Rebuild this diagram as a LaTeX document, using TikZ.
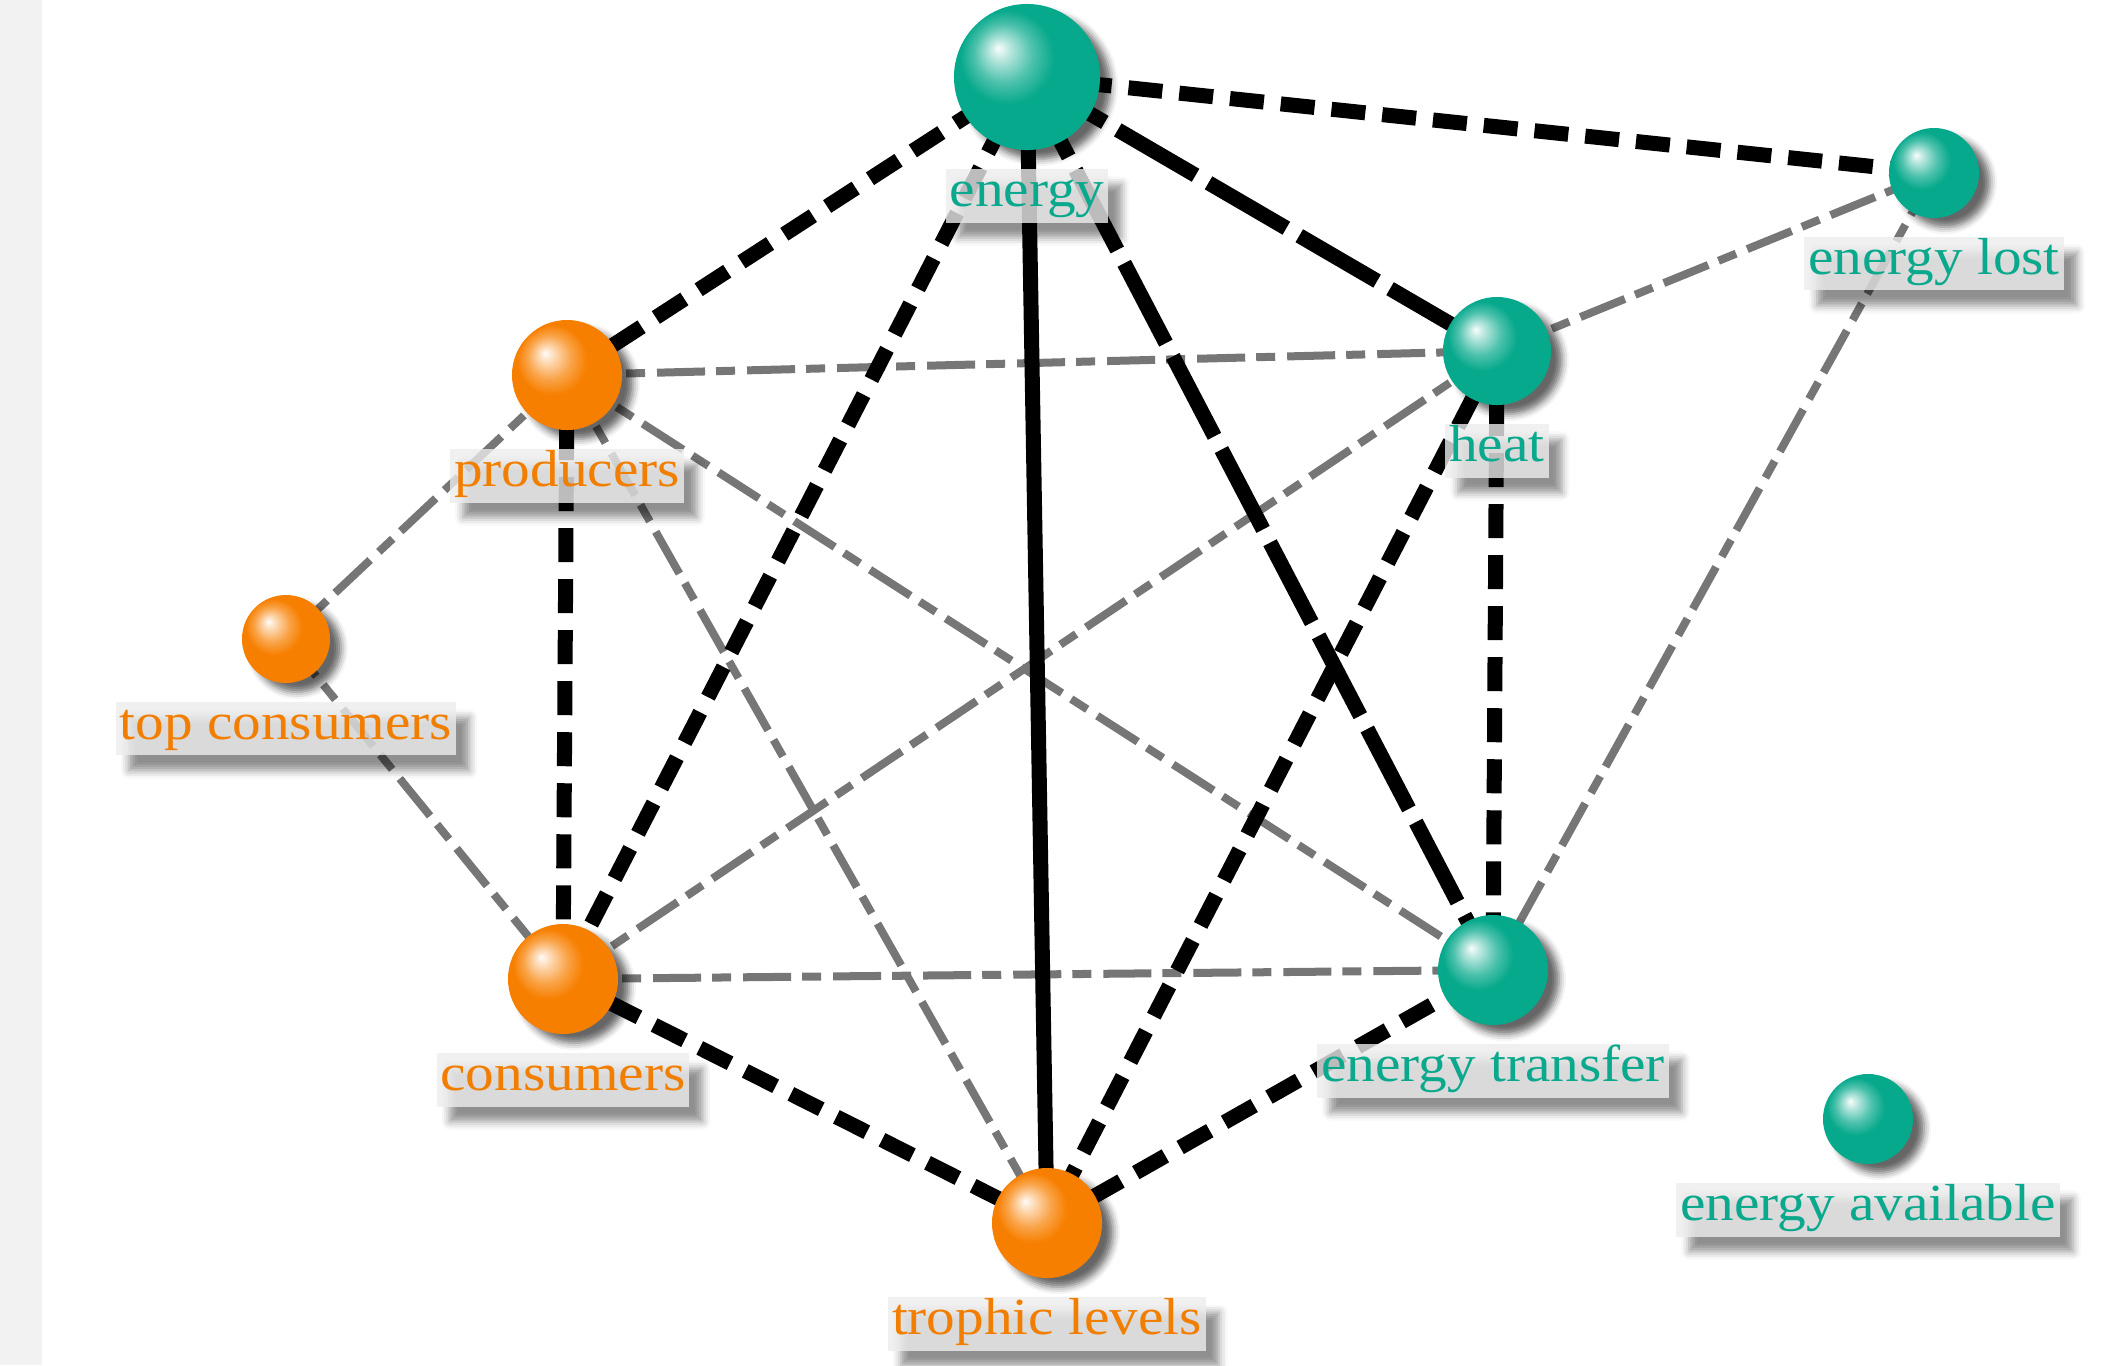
\documentclass[tikz,border=0pt]{standalone}
\usepackage{fontspec}
\setmainfont{Liberation Serif}[FakeStretch=1.1]
\usetikzlibrary{backgrounds,positioning,shadows.blur}

\definecolor{tealball}{HTML}{07A98C}
\definecolor{orangeball}{HTML}{F77F00}
\definecolor{tealtext}{HTML}{0AA88C}
\definecolor{orangetext}{HTML}{F27E00}
\definecolor{linegray}{HTML}{767676}
\definecolor{stripgray}{HTML}{F2F2F2}
\definecolor{boxgray}{HTML}{ECECEC}

% glossy sphere, highlight up left
\colorlet{ballhue}{tealball}
\pgfdeclareradialshading[ballhue]{glossy}{\pgfpoint{-10bp}{10bp}}{%
  color(0bp)=(ballhue!2!white); color(3bp)=(ballhue!25!white);
  color(10bp)=(ballhue!72!white); color(16bp)=(ballhue); color(50bp)=(ballhue)}

\tikzset{
  sphere/.style={circle, inner sep=0pt, minimum size=#1, shading=glossy,
    blur shadow={shadow xshift=0.11cm, shadow yshift=-0.09cm,
      shadow blur radius=0.07cm, shadow opacity=60}},
  gball/.style={sphere=#1, /utils/exec={\colorlet{ballhue}{tealball}}},
  oball/.style={sphere=#1, /utils/exec={\colorlet{ballhue}{orangeball}}},
  tag/.style={fill=boxgray, fill opacity=0.8, text opacity=1,
    inner xsep=0.04cm, inner ysep=0.03cm, text height=0.34cm, text depth=0.13cm,
    font=\fontsize{14.8}{16}\selectfont,
    blur shadow={shadow xshift=0.13cm, shadow yshift=-0.15cm,
      shadow blur radius=0.08cm, shadow opacity=55}},
  gtag/.style={tag, text=tealtext},
  otag/.style={tag, text=orangetext},
  bdash/.style={black, line width=0.15cm, dash pattern=on 0.34cm off 0.17cm},
  blong/.style={black, line width=0.15cm, dash pattern=on 0.9cm off 0.15cm},
  bsolid/.style={black, line width=0.15cm},
  gdash/.style={linegray, line width=0.08cm,
    dash pattern=on 0.48cm off 0.11cm on 0.19cm off 0.12cm}
}

\begin{document}
\begin{tikzpicture}[x=0.01cm, y=-0.01cm]

    \useasboundingbox (0,0) rectangle (2124,1365);

    \node[gball=1.46cm] (en) at (1027,77) {};
    \node[gball=0.9cm] (lost) at (1934,173) {};
    \node[oball=1.1cm] (prod) at (567,375) {};
    \node[gball=1.08cm] (heat) at (1497,351) {};
    \node[oball=0.88cm] (topc) at (286,639) {};
    \node[oball=1.1cm] (cons) at (563,979) {};
    \node[gball=1.1cm] (trans) at (1493,970) {};
    \node[oball=1.1cm] (troph) at (1047,1223) {};
    \node[gball=0.9cm] (avail) at (1868,1119) {};

    \node[gtag, below=0.18cm of en] (en-l) {energy};
    \node[gtag, below=0.18cm of lost] (lost-l) {energy lost};
    \node[otag, below=0.18cm of prod] (prod-l) {producers};
    \node[gtag, below=0.18cm of heat] (heat-l) {heat};
    \node[otag, below=0.18cm of topc] (topc-l) {top consumers};
    \node[otag, below=0.18cm of cons] (cons-l) {consumers};
    \node[gtag, below=0.18cm of trans] (trans-l) {energy transfer};
    \node[otag, below=0.18cm of troph] (troph-l) {trophic levels};
    \node[gtag, below=0.18cm of avail] (avail-l) {energy available};

    \begin{scope}[on background layer]
        \fill[stripgray] (0,0) rectangle (42,1365);

        % grey links
        \draw[gdash] (prod.center) -- (heat.center);
        \draw[gdash] (prod.center) -- (topc.center);
        \draw[gdash] (prod.center) -- (trans.center);
        \draw[gdash] (prod.center) -- (troph.center);
        \draw[gdash] (topc.center) -- (cons.center);
        \draw[gdash] (cons.center) -- (heat.center);
        \draw[gdash] (cons.center) -- (trans.center);
        \draw[gdash] (heat.center) -- (lost.center);
        \draw[gdash] (lost.center) -- (trans.center);

        % black links
        \draw[bdash] (en.center) -- (lost.center);
        \draw[bdash] (en.center) -- (prod.center);
        \draw[bdash] (en.center) -- (cons.center);
        \draw[bdash] (prod.center) -- (cons.center);
        \draw[bdash] (heat.center) -- (trans.center);
        \draw[bdash] (heat.center) -- (troph.center);
        \draw[bdash] (cons.center) -- (troph.center);
        \draw[bdash] (troph.center) -- (trans.center);
        \draw[blong] (en.center) -- (heat.center);
        \draw[blong] (en.center) -- (trans.center);
        \draw[bsolid] (en.center) -- (troph.center);
    \end{scope}

\end{tikzpicture}
\end{document}
